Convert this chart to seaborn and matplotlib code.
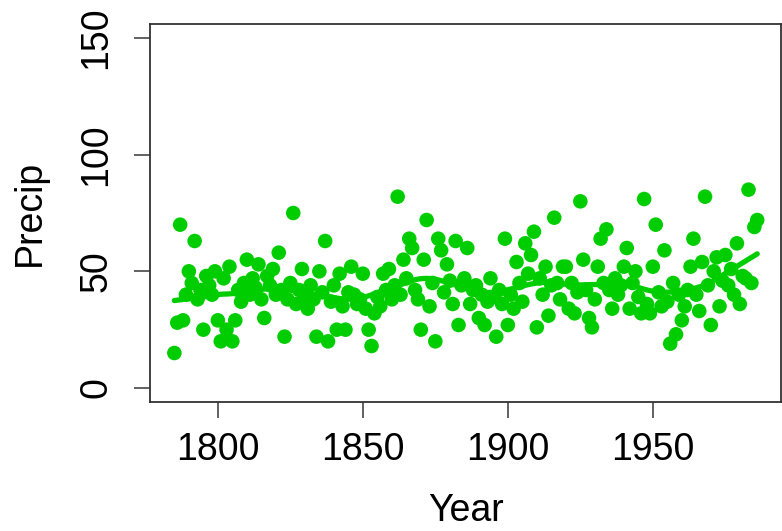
import numpy as np
import pandas as pd
import matplotlib
matplotlib.use("Agg")
import matplotlib.pyplot as plt
import seaborn as sns

# yearly precipitation (1785-1986)
years = list(range(1785, 1987))
precip = [
    15, 28, 70, 29, 40, 50, 45, 63, 38, 42,
    25, 48, 44, 40, 50, 29, 20, 47, 25, 52,
    20, 29, 42, 37, 45, 55, 40, 47, 43, 53,
    38, 30, 48, 44, 51, 40, 58, 42, 22, 38,
    45, 75, 36, 42, 51, 39, 34, 44, 38, 22,
    50, 41, 63, 20, 37, 44, 25, 49, 35, 25,
    41, 52, 40, 36, 38, 49, 34, 25, 18, 32,
    39, 35, 49, 42, 51, 38, 44, 82, 40, 55,
    47, 64, 60, 42, 38, 25, 55, 72, 35, 45,
    20, 64, 59, 41, 53, 46, 36, 63, 27, 44,
    47, 60, 36, 42, 44, 30, 40, 27, 37, 47,
    39, 22, 42, 36, 64, 27, 40, 34, 54, 45,
    37, 62, 49, 57, 67, 26, 47, 40, 52, 31,
    44, 73, 45, 38, 52, 52, 34, 45, 32, 41,
    80, 55, 42, 30, 26, 38, 52, 64, 45, 68,
    42, 34, 47, 40, 44, 52, 60, 34, 45, 50,
    39, 32, 81, 36, 32, 52, 70, 41, 35, 59,
    37, 19, 45, 23, 40, 29, 35, 42, 52, 64,
    40, 33, 54, 82, 44, 27, 50, 56, 35, 46,
    57, 44, 51, 40, 62, 36, 48, 47, 85, 45,
    69, 72,
]

x_ticks = [1800, 1850, 1900, 1950]
y_ticks = [0, 50, 100, 150]
GREEN = "#00cd00"


def lowess(x, y, f=0.2, iters=3):
    # R style lowess: local linear fit, tricube weights, robustness steps
    x = np.asarray(x, float)
    y = np.asarray(y, float)
    n = len(x)
    r = int(np.ceil(f * n))
    h = np.array([np.sort(np.abs(x - x[i]))[r] for i in range(n)])
    w = np.clip(np.abs((x[:, None] - x[None, :]) / h[None, :]), 0, 1)
    w = (1 - w ** 3) ** 3
    delta = np.ones(n)
    yest = np.zeros(n)
    for _ in range(iters + 1):
        for i in range(n):
            wi = delta * w[:, i]
            A = np.array([[wi.sum(), (wi * x).sum()], [(wi * x).sum(), (wi * x * x).sum()]])
            b = np.array([(wi * y).sum(), (wi * y * x).sum()])
            beta = np.linalg.solve(A, b)
            yest[i] = beta[0] + beta[1] * x[i]
        res = y - yest
        s = np.median(np.abs(res))
        delta = np.clip(res / (6 * s), -1, 1)
        delta = (1 - delta ** 2) ** 2
    return yest


df = pd.DataFrame({"Year": years, "Precip": precip})
df["smooth"] = lowess(df["Year"], df["Precip"], f=0.18)

sns.set_style("white")
plt.rcParams["font.family"] = ["Liberation Sans", "DejaVu Sans"]
plt.rcParams["text.color"] = "black"
plt.rcParams["axes.labelcolor"] = "black"
plt.rcParams["xtick.labelcolor"] = "black"
plt.rcParams["ytick.labelcolor"] = "black"

fig = plt.figure(figsize=(7.82, 5.31), dpi=100)
ax = fig.add_axes([150 / 782, 129 / 531, 631 / 782, 378 / 531])

sns.scatterplot(data=df, x="Year", y="Precip", color=GREEN, s=110,
                edgecolor="none", linewidth=0, ax=ax, zorder=2)
sns.lineplot(data=df, x="Year", y="smooth", color=GREEN, linewidth=3.8,
             ax=ax, zorder=3)

ax.set_xlim(1776.6, 1994.2)
ax.set_ylim(-6, 156)
ax.set_xticks(x_ticks)
ax.set_yticks(y_ticks)
ax.set_yticklabels([str(v) for v in y_ticks], rotation=90, va="center")

for sp in ax.spines.values():
    sp.set_visible(True)
    sp.set_color("#333333")
    sp.set_linewidth(1.3)

ax.tick_params(axis="both", direction="out", length=11.5, width=1.3,
               color="#555555", labelsize=27, pad=10, left=True, bottom=True)
ax.tick_params(axis="y", pad=14)

ax.set_xlabel("Year", fontsize=27, labelpad=18)
ax.set_ylabel("Precip", fontsize=27, labelpad=22)

fig.savefig("out.png", dpi=100, facecolor="white")
